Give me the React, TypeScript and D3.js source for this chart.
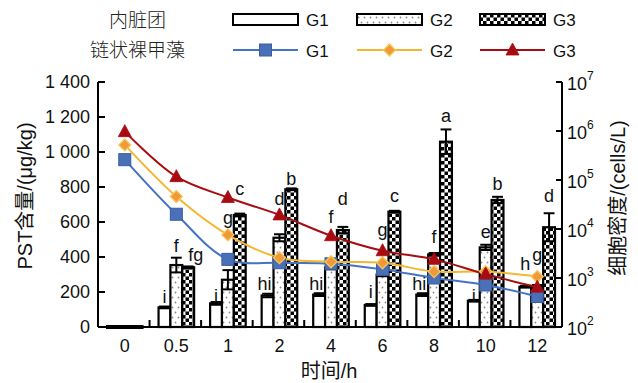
import React from 'react';
import * as d3 from 'd3';

// Sampling times (h)
const times = ['0', '0.5', '1', '2', '4', '6', '8', '10', '12'];
const groups = ['G1', 'G2', 'G3'];

// PST content in visceral mass (μg/kg): mean and error
const pstG1 = [0, 112, 135, 180, 185, 126, 185, 150, 230];
const pstG2 = [0, 354, 270, 510, 340, 300, 415, 455, 230];
const pstG3 = [0, 341, 640, 787, 554, 659, 1059, 726, 570];
const errG1 = [0, 5, 8, 10, 8, 5, 8, 5, 5];
const errG2 = [0, 42, 55, 20, 10, 10, 8, 15, 10];
const errG3 = [0, 5, 8, 5, 18, 5, 70, 18, 80];

// Significance letters and the PST level at which each letter sits
const letterG1 = ['', 'i', 'i', 'hi', 'hi', 'i', 'hi', 'i', 'h'];
const letterG2 = ['', 'f', 'g', 'd', 'f', 'g', 'f', 'e', 'g'];
const letterG3 = ['', 'fg', 'c', 'b', 'd', 'c', 'a', 'b', 'd'];
const letterLevelG1 = [0, 137, 145, 211, 211, 164, 211, 145, 326];
const letterLevelG2 = [0, 431, 589, 697, 593, 520, 480, 507, 377];
const letterLevelG3 = [0, 377, 754, 811, 697, 716, 1173, 783, 716];

// Gymnodinium catenatum cell density (cells/L)
const cellG1 = [2.6e5, 2.0e4, 2.4e3, 2.05e3, 1.95e3, 1.5e3, 1.0e3, 7.2e2, 4.2e2];
const cellG2 = [5.2e5, 4.6e4, 7.6e3, 2.6e3, 2.15e3, 2.05e3, 1.35e3, 1.35e3, 1.07e3];
const cellG3 = [9.7e5, 1.17e5, 4.4e4, 1.94e4, 7.3e3, 3.6e3, 2.4e3, 1.2e3, 6.5e2];

// Axis ticks
const pstTicks = [0, 200, 400, 600, 800, 1000, 1200, 1400];
const densityExps = [2, 3, 4, 5, 6, 7];

const LATIN = '"Liberation Sans", Arial, "Noto Sans CJK SC", sans-serif';
const CJK = '"Noto Sans CJK SC", "Liberation Sans", sans-serif';

const lineColors = ['#4472C4', '#F5B731', '#A80C12'];

const W = 638;
const H = 383;
const left = 98;
const right = 562;
const top = 82;
const bottom = 327;

const x = d3.scaleBand<string>().domain(times).range([left, right]);
const groupWidth = x.bandwidth() * 0.69;
const xg = d3.scaleBand<string>().domain(groups).range([0, groupWidth]);
const yL = d3.scaleLinear().domain([0, 1400]).range([bottom, top]);
const yR = d3.scaleLog().domain([1e2, 1e7]).range([bottom, top]);

const fmt = d3
  .formatLocale({ decimal: '.', thousands: ' ', grouping: [3], currency: ['', ''] })
  .format(',');

const pstSeries = [pstG1, pstG2, pstG3];
const errSeries = [errG1, errG2, errG3];
const letterSeries = [letterG1, letterG2, letterG3];
const letterLevels = [letterLevelG1, letterLevelG2, letterLevelG3];
const cellSeries = [cellG1, cellG2, cellG3];
const barFills = ['#ffffff', 'url(#dots)', 'url(#checks)'];

const cx = (t: string) => (x(t) as number) + x.bandwidth() / 2 + 1;
const barX = (t: string, g: string) =>
  (x(t) as number) + (x.bandwidth() - groupWidth) / 2 + 1 + (xg(g) as number);

function Marker({ kind, px, py }: { kind: number; px: number; py: number }) {
  if (kind === 0) {
    return (
      <rect x={px - 6} y={py - 6} width={12} height={12} fill="#4A70B8" stroke="#3A5E9E" strokeWidth={1} />
    );
  }
  if (kind === 1) {
    const s = 6;
    return (
      <path
        d={`M${px},${py - s}L${px + s},${py}L${px},${py + s}L${px - s},${py}Z`}
        fill="#F0993A"
        stroke="#F7C85A"
        strokeWidth={1.3}
      />
    );
  }
  return (
    <path
      d={`M${px},${py - 7}L${px + 6.5},${py + 5}L${px - 6.5},${py + 5}Z`}
      fill="#A80C12"
      stroke="#A80C12"
      strokeWidth={0.8}
    />
  );
}

export default function App() {
  const line = d3
    .line<number>()
    .x((_, i) => cx(times[i]))
    .y((d) => yR(d))
    .curve(d3.curveCatmullRom.alpha(0.5));

  const legendBarX = [233, 357, 480];
  const legendW = 65;

  return (
    <svg
      width={W}
      height={H}
      viewBox={`0 0 ${W} ${H}`}
      style={{ position: 'absolute', left: 0, top: 0, background: '#fff' }}
    >
      <defs>
        <pattern id="dots" width={6} height={10} patternUnits="userSpaceOnUse">
          <rect width={6} height={10} fill="#fff" />
          <circle cx={1.5} cy={2.5} r={0.9} fill="#8a8a8a" />
          <circle cx={4.5} cy={7.5} r={0.9} fill="#8a8a8a" />
        </pattern>
        <pattern id="checks" width={7} height={7} patternUnits="userSpaceOnUse">
          <rect width={7} height={7} fill="#fff" />
          <rect width={3.5} height={3.5} fill="#000" />
          <rect x={3.5} y={3.5} width={3.5} height={3.5} fill="#000" />
        </pattern>
      </defs>

      {/* Legend */}
      <text x={137.5} y={27} textAnchor="middle" fontFamily={CJK} fontSize={19} fontWeight={300} fill="#222">
        内脏团
      </text>
      <text x={137.5} y={57} textAnchor="middle" fontFamily={CJK} fontSize={19} fontWeight={300} fill="#222">
        链状裸甲藻
      </text>
      {groups.map((g, i) => (
        <g key={`lb-${g}`}>
          <rect
            x={legendBarX[i]}
            y={14}
            width={legendW}
            height={11}
            fill={barFills[i]}
            stroke="#000"
            strokeWidth={2}
          />
          <text x={legendBarX[i] + legendW + 8} y={26} fontFamily={LATIN} fontSize={17} fill="#111">
            {g}
          </text>
          <line
            x1={legendBarX[i]}
            x2={legendBarX[i] + legendW}
            y1={50}
            y2={50}
            stroke={lineColors[i]}
            strokeWidth={2}
          />
          <Marker kind={i} px={legendBarX[i] + legendW / 2} py={50} />
          <text x={legendBarX[i] + legendW + 8} y={57} fontFamily={LATIN} fontSize={17} fill="#111">
            {g}
          </text>
        </g>
      ))}

      {/* Bars with error bars */}
      {times.map((t, ti) =>
        groups.map((g, gi) => {
          const v = pstSeries[gi][ti];
          const e = errSeries[gi][ti];
          const bx = barX(t, g);
          const bw = xg.bandwidth();
          const yTop = yL(v);
          const h = yL(0) - yTop;
          return (
            <g key={`bar-${t}-${g}`}>
              {h > 0 ? (
                <rect
                  x={bx}
                  y={yTop}
                  width={bw}
                  height={h}
                  fill={barFills[gi]}
                  stroke="#000"
                  strokeWidth={2.2}
                />
              ) : (
                <line x1={bx - 1} x2={bx + bw + 1} y1={yTop} y2={yTop} stroke="#000" strokeWidth={4} />
              )}
              {e > 0 && (
                <g stroke="#000" strokeWidth={2}>
                  <line x1={bx + bw / 2} x2={bx + bw / 2} y1={yL(v - e)} y2={yL(v + e)} />
                  <line x1={bx + 0.5} x2={bx + bw - 0.5} y1={yL(v + e)} y2={yL(v + e)} />
                  <line x1={bx + 0.5} x2={bx + bw - 0.5} y1={yL(v - e)} y2={yL(v - e)} />
                </g>
              )}
            </g>
          );
        })
      )}

      {/* Axes */}
      <g stroke="#000" strokeWidth={2} fill="none">
        <line x1={left} x2={left} y1={top} y2={bottom} />
        <line x1={right} x2={right} y1={top} y2={bottom} />
        <line x1={left} x2={right} y1={bottom} y2={bottom} />
        {pstTicks.map((v) => (
          <line key={`lt-${v}`} x1={left} x2={left + 7} y1={yL(v)} y2={yL(v)} />
        ))}
        {densityExps.map((p) => (
          <line key={`rt-${p}`} x1={right - 6} x2={right} y1={yR(10 ** p)} y2={yR(10 ** p)} />
        ))}
        {times.slice(1).map((t) => (
          <line key={`xt-${t}`} x1={x(t) as number} x2={x(t) as number} y1={bottom} y2={bottom - 7} />
        ))}
      </g>

      {/* Cell density lines */}
      {cellSeries.map((s, i) => (
        <path key={`ln-${i}`} d={line(s) || ''} fill="none" stroke={lineColors[i]} strokeWidth={2} />
      ))}
      {cellSeries.map((s, i) =>
        s.map((v, ti) => <Marker key={`mk-${i}-${ti}`} kind={i} px={cx(times[ti])} py={yR(v)} />)
      )}

      {/* Significance letters */}
      {times.map((t, ti) =>
        groups.map((g, gi) => {
          const txt = letterSeries[gi][ti];
          if (!txt) return null;
          const center = barX(t, g) + xg.bandwidth() / 2;
          let anchor: 'middle' | 'start' | 'end' = 'middle';
          let px = center;
          if (txt.length > 1 && gi === 0) {
            anchor = 'end';
            px = center + 4;
          } else if (txt.length > 1 && gi === 2) {
            anchor = 'start';
            px = center;
          }
          return (
            <text
              key={`lt-${t}-${g}`}
              x={px}
              y={yL(letterLevels[gi][ti])}
              textAnchor={anchor}
              fontFamily={LATIN}
              fontSize={18}
              fill="#111"
            >
              {txt}
            </text>
          );
        })
      )}

      {/* Tick labels */}
      {pstTicks.map((v) => (
        <text
          key={`ll-${v}`}
          x={90}
          y={yL(v) + 6}
          textAnchor="end"
          fontFamily={LATIN}
          fontSize={18}
          fill="#111"
        >
          {fmt(v)}
        </text>
      ))}
      {densityExps.map((p) => (
        <text key={`rl-${p}`} x={567} y={yR(10 ** p) + 8} fontFamily={LATIN} fontSize={18} fill="#111">
          10
          <tspan dy={-10} fontSize={12}>
            {p}
          </tspan>
        </text>
      ))}
      {times.map((t) => (
        <text
          key={`xl-${t}`}
          x={cx(t)}
          y={352}
          textAnchor="middle"
          fontFamily={LATIN}
          fontSize={18}
          fill="#111"
        >
          {t}
        </text>
      ))}

      {/* Axis titles */}
      <text
        transform="translate(32,196) rotate(-90)"
        textAnchor="middle"
        fontFamily={LATIN}
        fontSize={20}
        fill="#111"
      >
        PST含量/(μg/kg)
      </text>
      <text
        transform="translate(625,198) rotate(-90)"
        textAnchor="middle"
        fontFamily={LATIN}
        fontSize={20}
        fill="#111"
      >
        细胞密度/(cells/L)
      </text>
      <text x={329} y={378} textAnchor="middle" fontFamily={LATIN} fontSize={20} fill="#111">
        时间/h
      </text>
    </svg>
  );
}
